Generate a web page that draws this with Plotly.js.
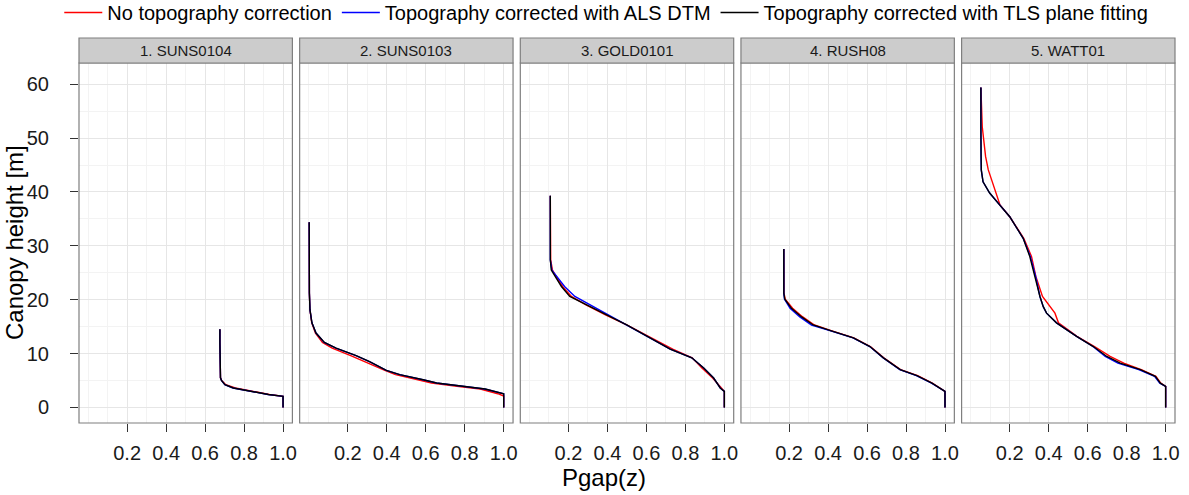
<!DOCTYPE html>
<html><head><meta charset="utf-8">
<script src="https://cdn.plot.ly/plotly-3.0.1.min.js"></script>
<style>html,body{margin:0;padding:0;background:#fff}#chart{width:1189px;height:495px}</style>
</head><body><div id="chart"></div>
<script>
// ---------- data ----------
const panelNames = ["1. SUNS0104", "2. SUNS0103", "3. GOLD0101", "4. RUSH08", "5. WATT01"];
const seriesNames = ["No topography correction", "Topography corrected with ALS DTM", "Topography corrected with TLS plane fitting"];
const seriesColors = ["#ff0000", "#0000ff", "#000000"];
const xTickVals = [0.2, 0.4, 0.6, 0.8, 1.0];
const xTickText = ["0.2", "0.4", "0.6", "0.8", "1.0"];
const yTickVals = [0, 10, 20, 30, 40, 50, 60];

// Panel 1: SUNS0104
const height1 = [0, 1, 2.05, 2.4, 2.7, 3.15, 3.6, 4.2, 5.0, 5.5, 8, 12, 14.5];
const noCorr1 = [1.0, 1.0, 1.0, 0.93, 0.89, 0.815, 0.755, 0.706, 0.685, 0.679, 0.677, 0.676, 0.676];
const als1    = [1.0, 1.0, 1.0, 0.923, 0.88, 0.803, 0.743, 0.701, 0.684, 0.679, 0.677, 0.676, 0.676];
const tls1    = [1.0, 1.0, 1.0, 0.925, 0.882, 0.805, 0.745, 0.702, 0.684, 0.679, 0.677, 0.676, 0.676];

// Panel 2: SUNS0103
const height2 = [0, 2.1, 2.54, 3.41, 3.9, 4.52, 5.14, 6.07, 6.87, 8.5, 9.6, 11.0, 12.06, 13.8, 15.7, 18.1, 21.2, 34.4];
const noCorr2 = [1.0, 1.0, 0.97, 0.88, 0.76, 0.63, 0.56, 0.445, 0.39, 0.29, 0.215, 0.12, 0.07, 0.034, 0.015, 0.006, 0.003, 0.002];
const als2    = [1.0, 1.0, 1.0, 0.903, 0.792, 0.655, 0.585, 0.466, 0.398, 0.311, 0.242, 0.139, 0.079, 0.037, 0.016, 0.006, 0.003, 0.002];
const tls2    = [1.0, 1.0, 1.0, 0.905, 0.794, 0.656, 0.587, 0.467, 0.398, 0.312, 0.243, 0.14, 0.08, 0.037, 0.016, 0.006, 0.003, 0.002];

// Panel 3: GOLD0101
const height3 = [0, 2.97, 3.6, 5.45, 7.3, 9.2, 10.8, 13.2, 15.3, 17.2, 19.05, 20.6, 22.45, 24.3, 25.5, 27.4, 31.7, 39.3];
const noCorr3 = [1.0, 1.0, 0.985, 0.94, 0.885, 0.835, 0.735, 0.61, 0.499, 0.39, 0.29, 0.215, 0.17, 0.138, 0.118, 0.109, 0.108, 0.107];
const als3    = [1.0, 1.0, 0.979, 0.945, 0.894, 0.833, 0.722, 0.602, 0.499, 0.405, 0.31, 0.233, 0.18, 0.138, 0.115, 0.107, 0.107, 0.107];
const tls3    = [1.0, 1.0, 0.979, 0.945, 0.894, 0.833, 0.722, 0.602, 0.499, 0.396, 0.293, 0.207, 0.164, 0.13, 0.112, 0.107, 0.107, 0.107];

// Panel 4: RUSH08
const height4 = [0, 2.97, 4.5, 5.9, 7.0, 9.2, 11.3, 12.9, 14.3, 15.3, 16.8, 18.4, 20.1, 21.2, 29.4];
const noCorr4 = [1.0, 1.0, 0.935, 0.86, 0.772, 0.686, 0.617, 0.532, 0.412, 0.33, 0.27, 0.218, 0.18, 0.174, 0.173];
const als4    = [1.0, 1.0, 0.931, 0.853, 0.768, 0.683, 0.614, 0.528, 0.405, 0.315, 0.255, 0.205, 0.176, 0.173, 0.173];
const tls4    = [1.0, 1.0, 0.933, 0.856, 0.77, 0.684, 0.615, 0.53, 0.409, 0.324, 0.264, 0.212, 0.178, 0.173, 0.173];

// Panel 5: WATT01
const height5 = [0, 3.9, 4.5, 5.75, 7.0, 8.2, 9.46, 11.3, 13.2, 15.7, 17.5, 18.7, 20.6, 24.3, 28.0, 31.4, 35.4, 37.6, 39.8, 41.9, 44.1, 46.6, 49.05, 52.1, 59.4];
const noCorr5 = [1.0, 1.0, 0.975, 0.95, 0.875, 0.785, 0.715, 0.635, 0.545, 0.45, 0.432, 0.406, 0.368, 0.334, 0.312, 0.272, 0.2, 0.15, 0.13, 0.112, 0.09, 0.076, 0.068, 0.059, 0.052];
const als5    = [1.0, 1.0, 0.97, 0.943, 0.862, 0.755, 0.69, 0.627, 0.543, 0.44, 0.389, 0.372, 0.355, 0.333, 0.306, 0.269, 0.2, 0.148, 0.097, 0.063, 0.054, 0.053, 0.052, 0.052, 0.052];
const tls5    = [1.0, 1.0, 0.973, 0.947, 0.87, 0.767, 0.698, 0.629, 0.543, 0.44, 0.389, 0.372, 0.355, 0.329, 0.303, 0.269, 0.2, 0.148, 0.097, 0.063, 0.054, 0.053, 0.052, 0.052, 0.052];

const heights = [height1, height2, height3, height4, height5];
const pgapSeries = [
  [noCorr1, als1, tls1],
  [noCorr2, als2, tls2],
  [noCorr3, als3, tls3],
  [noCorr4, als4, tls4],
  [noCorr5, als5, tls5]
];

// ---------- layout geometry ----------
const W = 1189, H = 495, ML = 79, MR = 14, MT = 38, MB = 72;
const PW = W - ML - MR, PH = H - MT - MB;
const panelW = 213.4, panelStep = 220.65;
const panelTop = 1 - 25 / PH;
const FONT = "Liberation Sans, Arial, Helvetica, sans-serif";

const traces = [];
for (let p = 0; p < 5; p++) {
  const suf = p === 0 ? "" : String(p + 1);
  for (let s = 0; s < 3; s++) {
    traces.push({
      type: "scatter", mode: "lines",
      x: pgapSeries[p][s], y: heights[p],
      xaxis: "x" + suf, yaxis: "y" + suf,
      name: seriesNames[s], legendgroup: "s" + s,
      showlegend: p === 0,
      line: {color: seriesColors[s], width: 1.4},
      hoverinfo: "skip"
    });
  }
}

const layout = {
  width: W, height: H,
  margin: {l: ML, r: MR, t: MT, b: MB, pad: 0, autoexpand: false},
  paper_bgcolor: "#ffffff", plot_bgcolor: "#ffffff",
  font: {family: FONT, color: "#1a1a1a"},
  showlegend: true,
  legend: {
    orientation: "h", x: -0.018, xanchor: "left", y: 1 + 45 / PH, yanchor: "top",
    font: {size: 20, family: FONT, color: "#000"}, tracegroupgap: 24, itemwidth: 38,
    bgcolor: "rgba(0,0,0,0)", borderwidth: 0, itemclick: false, itemdoubleclick: false
  },
  shapes: [], annotations: []
};

for (let p = 0; p < 5; p++) {
  const suf = p === 0 ? "" : String(p + 1);
  const x0 = (p * panelStep) / PW, x1 = (p * panelStep + panelW) / PW;
  layout["xaxis" + suf] = {
    domain: [x0, x1], anchor: "y" + suf,
    range: [-0.047, 1.048], fixedrange: true,
    tickmode: "array", tickvals: xTickVals, ticktext: xTickText,
    ticks: "outside", ticklen: 8, tickwidth: 1, tickcolor: "#333333",
    ticklabelstandoff: 4,
    tickfont: {size: 20, family: FONT, color: "#1a1a1a"},
    showgrid: true, gridcolor: "#e6e6e6", gridwidth: 1,
    minor: {tickmode: "array", tickvals: [0.0, 0.1, 0.3, 0.5, 0.7, 0.9], showgrid: true, gridcolor: "#f3f3f3", gridwidth: 1, ticks: ""},
    zeroline: false, showline: false
  };
  layout["yaxis" + suf] = {
    domain: [0, panelTop], anchor: "x" + suf,
    range: [-2.9, 63.95], fixedrange: true,
    tickmode: "array", tickvals: yTickVals,
    ticks: p === 0 ? "outside" : "", ticklen: 8, tickwidth: 1, tickcolor: "#333333",
    showticklabels: p === 0, ticklabelstandoff: 17,
    tickfont: {size: 20, family: FONT, color: "#1a1a1a"},
    showgrid: true, gridcolor: "#e6e6e6", gridwidth: 1,
    minor: {tickmode: "array", tickvals: [5, 15, 25, 35, 45, 55], showgrid: true, gridcolor: "#f3f3f3", gridwidth: 1, ticks: ""},
    zeroline: false, showline: false
  };
  // panel border
  layout.shapes.push({
    type: "rect", xref: "x" + suf + " domain", yref: "y" + suf + " domain",
    x0: 0, x1: 1, y0: 0, y1: 1, line: {color: "#7f7f7f", width: 1.2}, fillcolor: "rgba(0,0,0,0)", layer: "above"
  });
  // strip
  layout.shapes.push({
    type: "rect", xref: "x" + suf + " domain", yref: "paper",
    x0: 0, x1: 1, y0: panelTop, y1: 1, line: {color: "#7f7f7f", width: 1.2}, fillcolor: "#cccccc", layer: "above"
  });
  layout.annotations.push({
    text: panelNames[p], xref: "x" + suf + " domain", yref: "paper",
    x: 0.5, y: (1 + panelTop) / 2, xanchor: "center", yanchor: "middle",
    showarrow: false, font: {size: 15, family: FONT, color: "#1a1a1a"}
  });
}

// axis titles
layout.annotations.push({
  text: "Pgap(z)", xref: "paper", yref: "paper",
  x: (603.7 - ML) / PW, y: -(477 - (MT + PH)) / PH,
  xanchor: "center", yanchor: "middle", showarrow: false,
  font: {size: 24, family: FONT, color: "#000"}
});
layout.annotations.push({
  text: "Canopy height [m]", xref: "paper", yref: "paper",
  x: (14 - ML) / PW, y: (MT + PH - 243) / PH, textangle: -90,
  xanchor: "center", yanchor: "middle", showarrow: false,
  font: {size: 24, family: FONT, color: "#000"}
});

Plotly.newPlot("chart", traces, layout, {displayModeBar: false, staticPlot: true});
</script>
</body></html>
